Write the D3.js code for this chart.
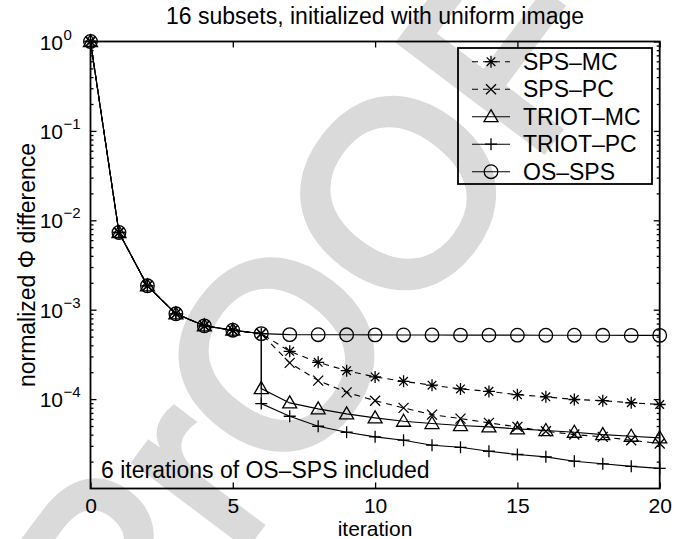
<!DOCTYPE html>
<html>
<head>
<meta charset="utf-8">
<script src="https://cdn.jsdelivr.net/npm/d3@7"></script>
<style>
  body { margin: 0; background: #fff; }
  text { font-family: "Liberation Sans", Arial, Helvetica, sans-serif; fill: #000; }
</style>
</head>
<body>
<svg id="chart"></svg>
<script>
// iteration numbers on the x axis
const iterations = [0, 1, 2, 3, 4, 5, 6, 7, 8, 9, 10, 11, 12, 13, 14, 15, 16, 17, 18, 19, 20];
// first 6 OS-SPS iterations, shared by every curve (iterations 0..6)
const shared = [1, 7.3e-3, 1.85e-3, 9.0e-4, 6.6e-4, 5.9e-4, 5.4e-4];
// iterations 7..20
const osSps = [5.26e-4, 5.25e-4, 5.24e-4, 5.23e-4, 5.22e-4, 5.21e-4, 5.2e-4, 5.2e-4, 5.19e-4, 5.18e-4, 5.18e-4, 5.17e-4, 5.16e-4, 5.16e-4];
const spsMc = [3.42e-4, 2.58e-4, 2.08e-4, 1.77e-4, 1.58e-4, 1.43e-4, 1.30e-4, 1.22e-4, 1.12e-4, 1.06e-4, 9.9e-5, 9.6e-5, 9.1e-5, 8.7e-5];
const spsPc = [2.54e-4, 1.61e-4, 1.19e-4, 9.6e-5, 7.97e-5, 6.7e-5, 6.05e-5, 5.42e-5, 4.89e-5, 4.36e-5, 4.01e-5, 3.78e-5, 3.47e-5, 3.18e-5];
// TRIOT restarts at iteration 6, so these are iterations 6..20
const triotMc = [1.31e-4, 9.07e-5, 7.78e-5, 6.84e-5, 6.17e-5, 5.65e-5, 5.33e-5, 5.06e-5, 4.89e-5, 4.64e-5, 4.45e-5, 4.26e-5, 4.01e-5, 3.84e-5, 3.68e-5];
const triotPc = [8.9e-5, 6.43e-5, 4.97e-5, 4.26e-5, 3.78e-5, 3.47e-5, 3.05e-5, 2.89e-5, 2.61e-5, 2.40e-5, 2.26e-5, 2.02e-5, 1.89e-5, 1.77e-5, 1.68e-5];

const xTicks = [0, 5, 10, 15, 20];
const yTicks = [1, 1e-1, 1e-2, 1e-3, 1e-4];
const yTickExp = ["0", "\u22121", "\u22122", "\u22123", "\u22124"];
const legendNames = ["SPS\u2013MC", "SPS\u2013PC", "TRIOT\u2013MC", "TRIOT\u2013PC", "OS\u2013SPS"];

const width = 694, height = 539;
const svg = d3.select("#chart").attr("width", width).attr("height", height);

// grey "proof" watermark behind everything
svg.append("text")
  .attr("transform", "translate(131,697) rotate(-53)")
  .style("font-size", "260px")
  .style("fill", "#dadada")
  .style("stroke", "#dadada").style("stroke-width", 8)
  .text("PrOOF");

const x = d3.scaleLinear().domain([0, 20]).range([90.5, 659.7]);
const y = d3.scaleLog().domain([1e-5, 1]).range([488.5, 41.5]);

// build the series
function sps(tail) {
  const pts = iterations.map((it, i) => ({ x: it, y: i <= 6 ? shared[i] : tail[i - 7] }));
  return { line: pts, marks: pts };
}
function triot(tail) {
  const head = iterations.slice(0, 7).map((it, i) => ({ x: it, y: shared[i] }));
  const rest = iterations.slice(6).map((it, i) => ({ x: it, y: tail[i] }));
  return { line: head.concat(rest), marks: head.slice(0, 6).concat(rest) };
}

const symbols = {
  star: "M-6,0H6M0,-6V6M-4.3,-4.3L4.3,4.3M-4.3,4.3L4.3,-4.3",
  cross: "M-5,-5L5,5M-5,5L5,-5",
  tri: "M0,-7L7,5H-7Z",
  plus: "M-6,0H6M0,-6V6",
  circ: "M6.8,0A6.8,6.8 0 1,1 -6.8,0A6.8,6.8 0 1,1 6.8,0Z"
};

const series = [
  { name: legendNames[0], data: sps(spsMc), dash: "6,5", sym: symbols.star },
  { name: legendNames[1], data: sps(spsPc), dash: "6,5", sym: symbols.cross },
  { name: legendNames[2], data: triot(triotMc), dash: null, sym: symbols.tri },
  { name: legendNames[3], data: triot(triotPc), dash: null, sym: symbols.plus },
  { name: legendNames[4], data: sps(osSps), dash: null, sym: symbols.circ }
];

// ticks (inward, matlab style)
const axB = svg.append("g").attr("transform", "translate(0,488.5)")
  .call(d3.axisBottom(x).tickValues(xTicks).tickSize(-6).tickPadding(10).tickFormat(d3.format("d")));
const axT = svg.append("g").attr("transform", "translate(0,41.5)")
  .call(d3.axisTop(x).tickValues(xTicks).tickSize(-6).tickFormat(""));
const minor = y.ticks().filter(v => yTicks.indexOf(v) < 0 && v > 1e-5);
const axL = svg.append("g").attr("transform", "translate(90.5,0)")
  .call(d3.axisLeft(y).tickValues(yTicks).tickSize(-6).tickFormat(""));
const axLm = svg.append("g").attr("transform", "translate(90.5,0)")
  .call(d3.axisLeft(y).tickValues(minor).tickSize(-3).tickFormat(""));
const axR = svg.append("g").attr("transform", "translate(659.7,0)")
  .call(d3.axisRight(y).tickValues(yTicks).tickSize(-6).tickFormat(""));
const axRm = svg.append("g").attr("transform", "translate(659.7,0)")
  .call(d3.axisRight(y).tickValues(minor).tickSize(-3).tickFormat(""));
[axB, axT, axL, axLm, axR, axRm].forEach(a => {
  a.select(".domain").remove();
  a.selectAll("line").attr("stroke", "#000").attr("stroke-width", 1.3);
});
axB.selectAll("text").style("font-size", "21px").attr("fill", "#000");

// y tick labels 10^k
yTicks.forEach((v, i) => {
  svg.append("text").attr("x", 63).attr("y", y(v) + 8)
    .attr("text-anchor", "end").style("font-size", "21px").text("10");
  svg.append("text").attr("x", 63.5).attr("y", y(v) - 2)
    .style("font-size", "15px").text(yTickExp[i]);
});

// data
const line = d3.line().x(d => x(d.x)).y(d => y(d.y));
const plot = svg.append("g");
series.forEach(s => {
  plot.append("path").attr("d", line(s.data.line))
    .attr("fill", "none").attr("stroke", "#000").attr("stroke-width", 1.1)
    .attr("stroke-dasharray", s.dash);
  plot.selectAll(null).data(s.data.marks).join("path")
    .attr("transform", d => `translate(${x(d.x)},${y(d.y)})`)
    .attr("d", s.sym).attr("fill", "none").attr("stroke", "#000").attr("stroke-width", 1.3);
});

// frame
svg.append("rect").attr("x", 90.5).attr("y", 41.5)
  .attr("width", 659.7 - 90.5).attr("height", 488.5 - 41.5)
  .attr("fill", "none").attr("stroke", "#000").attr("stroke-width", 1.8);

// texts
svg.append("text").attr("x", 375).attr("y", 24).attr("text-anchor", "middle")
  .style("font-size", "23px").text("16 subsets, initialized with uniform image");
svg.append("text").attr("x", 375).attr("y", 536).attr("text-anchor", "middle")
  .style("font-size", "21px").text("iteration");
svg.append("text").attr("transform", "translate(35,265) rotate(-90)").attr("text-anchor", "middle")
  .style("font-size", "23px").text("normalized \u03A6 difference");
svg.append("text").attr("x", 101).attr("y", 478)
  .style("font-size", "23px").text("6 iterations of OS\u2013SPS included");

// legend
const lg = svg.append("g");
lg.append("rect").attr("x", 458).attr("y", 48).attr("width", 194).attr("height", 136)
  .attr("fill", "none").attr("stroke", "#000").attr("stroke-width", 1.8);
series.forEach((s, i) => {
  const cy = 61.7 + i * 27.5;
  lg.append("line").attr("x1", 472).attr("x2", 510).attr("y1", cy).attr("y2", cy)
    .attr("stroke", "#000").attr("stroke-width", 1.1).attr("stroke-dasharray", s.dash);
  lg.append("path").attr("transform", `translate(491,${cy})`).attr("d", s.sym)
    .attr("fill", "none").attr("stroke", "#000").attr("stroke-width", 1.3);
  lg.append("text").attr("x", 523).attr("y", cy + 8).style("font-size", "23px").text(s.name);
});
</script>
</body>
</html>
